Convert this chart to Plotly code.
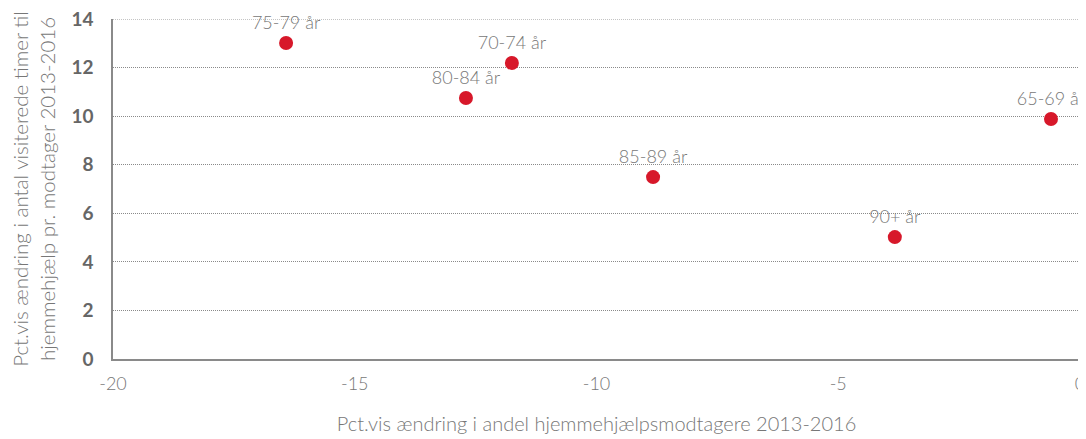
import plotly.graph_objects as go

age_groups = ["75-79 år", "70-74 år", "80-84 år", "85-89 år", "90+ år", "65-69 år"]
change_share = [-16.42, -11.75, -12.70, -8.83, -3.83, -0.60]
change_hours = [13.01, 12.19, 10.75, 7.49, 5.02, 9.88]
x_ticks = [-20, -15, -10, -5, 0]
x_tick_labels = ["-20", "-15", "-10", "-5", "0"]
y_max = 14

x_title = "Pct.vis ændring i andel hjemmehjælpsmodtagere 2013-2016"
y_title = "Pct.vis ændring i antal visiterede timer til<br>hjemmehjælp pr. modtager 2013-2016"

fig = go.Figure()
fig.add_trace(go.Scatter(
    x=change_share, y=change_hours, mode="markers+text",
    text=age_groups, textposition="top center",
    textfont=dict(family="Lato", size=18, color="#777777", weight=300),
    marker=dict(color="#d7182a", size=14),
    cliponaxis=False, showlegend=False,
))

# top gridline at the range end
fig.add_shape(type="line", xref="paper", x0=0, x1=1, yref="y", y0=y_max, y1=y_max,
              line=dict(color="#8a8a8a", width=1, dash="1px,1px"), layer="below")

# page has an 8px body margin; the figure is sized to fit the 1086x439 window
fig.update_layout(
    width=1078, height=431,
    margin=dict(l=105, r=6, t=11, b=80, autoexpand=False),
    plot_bgcolor="white", paper_bgcolor="white",
    font=dict(family="Lato", color="#777777"),
)
fig.update_xaxes(
    range=[-20, 0], tickvals=x_ticks, ticktext=x_tick_labels,
    showgrid=False, zeroline=False,
    showline=True, linecolor="#8a8a8a", linewidth=1.5,
    ticks="", ticklabelstandoff=8, ticklabeloverflow="allow",
    tickfont=dict(family="Lato", size=18, color="#777777", weight=300),
    title=dict(text=x_title, standoff=24,
               font=dict(family="Lato", size=20, color="#777777", weight=300)),
)
fig.update_yaxes(
    range=[0, y_max], dtick=2, showgrid=True, gridcolor="#8a8a8a",
    griddash="1px,1px", gridwidth=1, zeroline=False,
    showline=True, linecolor="#8a8a8a", linewidth=1.5,
    ticks="", ticklabelstandoff=14, ticklabeloverflow="allow",
    tickfont=dict(family="Lato", size=19, color="#666666", weight="bold"),
    title=dict(text=y_title, standoff=14,
               font=dict(family="Lato", size=20.5, color="#777777", weight=300)),
)

fig.write_html("out.html")
